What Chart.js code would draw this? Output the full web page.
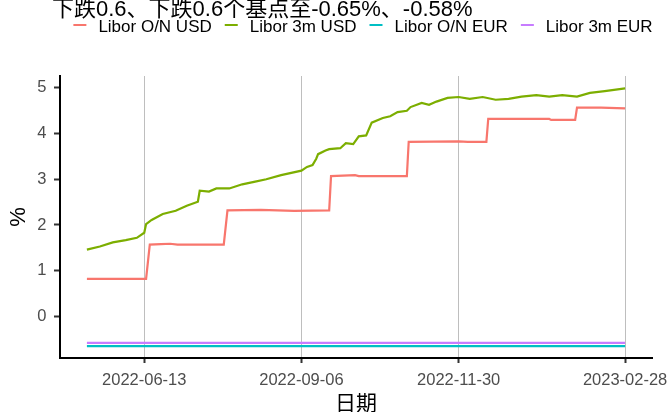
<!DOCTYPE html>
<html>
<head>
<meta charset="utf-8">
<script src="https://cdn.jsdelivr.net/npm/chart.js@4.4.1/dist/chart.umd.min.js"></script>
<style>
  html, body { margin: 0; padding: 0; background: #fff; overflow: hidden; }
  #wrap { width: 669px; height: 412px; position: relative; }
</style>
</head>
<body>
<div id="wrap"><canvas id="chart"></canvas></div>
<script>
// title and series names
const titleText = '下跌0.6、下跌0.6个基点至-0.65%、-0.58%';
const seriesLabels = ['Libor O/N USD', 'Libor 3m USD', 'Libor O/N EUR', 'Libor 3m EUR'];

// Libor O/N USD (%)
const onUsdDates = [
  '2022-05-13', '2022-05-31', '2022-06-14', '2022-06-16', '2022-06-22', '2022-06-27',
  '2022-07-01', '2022-07-26', '2022-07-28', '2022-08-15', '2022-09-02', '2022-09-21',
  '2022-09-22', '2022-10-05', '2022-10-07', '2022-11-02', '2022-11-03', '2022-11-30',
  '2022-12-05', '2022-12-15', '2022-12-16', '2023-01-18', '2023-01-19', '2023-02-01',
  '2023-02-02', '2023-02-15', '2023-02-28'
];
const onUsdValues = [
  0.82, 0.82, 0.82, 1.57, 1.58, 1.59,
  1.57, 1.57, 2.32, 2.33, 2.31, 2.32,
  3.07, 3.09, 3.07, 3.07, 3.82, 3.83,
  3.82, 3.82, 4.32, 4.32, 4.30, 4.30,
  4.57, 4.57, 4.55
];

// Libor 3m USD (%)
const m3UsdDates = [
  '2022-05-13', '2022-05-20', '2022-05-27', '2022-06-03', '2022-06-09', '2022-06-13',
  '2022-06-14', '2022-06-17', '2022-06-23', '2022-06-30', '2022-07-06', '2022-07-12',
  '2022-07-13', '2022-07-18', '2022-07-22', '2022-07-29', '2022-08-05', '2022-08-12',
  '2022-08-18', '2022-08-26', '2022-09-06', '2022-09-09', '2022-09-12', '2022-09-14',
  '2022-09-15', '2022-09-19', '2022-09-21', '2022-09-27', '2022-09-30', '2022-10-04',
  '2022-10-07', '2022-10-11', '2022-10-14', '2022-10-20', '2022-10-24', '2022-10-28',
  '2022-11-02', '2022-11-04', '2022-11-10', '2022-11-14', '2022-11-18', '2022-11-24',
  '2022-11-30', '2022-12-06', '2022-12-13', '2022-12-20', '2022-12-27', '2023-01-03',
  '2023-01-11', '2023-01-18', '2023-01-25', '2023-02-02', '2023-02-09', '2023-02-17',
  '2023-02-28'
];
const m3UsdValues = [
  1.46, 1.53, 1.62, 1.67, 1.72, 1.83,
  2.02, 2.11, 2.24, 2.31, 2.42, 2.51,
  2.75, 2.73, 2.80, 2.80, 2.89, 2.95,
  3.00, 3.09, 3.19, 3.27, 3.31, 3.45,
  3.55, 3.63, 3.66, 3.68, 3.79, 3.77,
  3.94, 3.96, 4.24, 4.34, 4.38, 4.47,
  4.50, 4.58, 4.67, 4.63, 4.70, 4.78,
  4.80, 4.76, 4.80, 4.74, 4.76, 4.81,
  4.84, 4.81, 4.84, 4.81, 4.89, 4.93,
  4.99
];

// EUR fixings stayed flat over the period
const eurDates = ['2022-05-13', '2023-02-28'];
const onEurValues = [-0.65, -0.65];
const m3EurValues = [-0.58, -0.58];

// axis ticks
const xTickDates = ['2022-06-13', '2022-09-06', '2022-11-30', '2023-02-28'];
const yTicks = [0, 1, 2, 3, 4, 5];
const yMin = -0.91;
const yMax = 5.26;

const colors = ['#F8766D', '#7CAE00', '#00BFC4', '#C77CFF'];

const day0 = Date.parse(onUsdDates[0]);
const toDay = (s) => (Date.parse(s) - day0) / 864e5;
const toPoints = (dates, values) => dates.map((d, i) => ({ x: toDay(d), y: values[i] }));

const xFirst = toDay(onUsdDates[0]);
const xLast = toDay(onUsdDates[onUsdDates.length - 1]);
const xPad = (xLast - xFirst) * 0.05;

const latin = '"Liberation Sans", Arial, "Noto Sans CJK SC", sans-serif';

const headerPlugin = {
  id: 'header',
  afterDraw(chart) {
    const ctx = chart.ctx;
    ctx.save();
    ctx.fillStyle = '#000';
    ctx.font = '22px ' + latin;
    ctx.textBaseline = 'alphabetic';
    ctx.textAlign = 'left';
    ctx.fillText(titleText, 52, 16);

    ctx.font = '17px ' + latin;
    const keyLen = 13, keyGap = 12, itemGap = 13;
    const widths = chart.data.datasets.map((ds) => ctx.measureText(ds.label).width);
    const total = widths.reduce((a, w) => a + keyLen + keyGap + w, 0) + itemGap * (widths.length - 1);
    let x = 363 - total / 2;
    chart.data.datasets.forEach((ds, i) => {
      ctx.strokeStyle = ds.borderColor;
      ctx.lineWidth = 2;
      ctx.beginPath();
      ctx.moveTo(x, 25);
      ctx.lineTo(x + keyLen, 25);
      ctx.stroke();
      ctx.fillStyle = '#000';
      ctx.fillText(ds.label, x + keyLen + keyGap, 32);
      x += keyLen + keyGap + widths[i] + itemGap;
    });
    ctx.restore();
  },
};

const lineSet = (i, pts) => ({
  label: seriesLabels[i],
  data: pts,
  borderColor: colors[i],
  backgroundColor: colors[i],
  borderWidth: 2.2,
  pointRadius: 0,
  tension: 0,
  order: 4 - i,
});

new Chart(document.getElementById('chart'), {
  type: 'line',
  data: {
    datasets: [
      lineSet(0, toPoints(onUsdDates, onUsdValues)),
      lineSet(1, toPoints(m3UsdDates, m3UsdValues)),
      lineSet(2, toPoints(eurDates, onEurValues)),
      lineSet(3, toPoints(eurDates, m3EurValues)),
    ],
  },
  options: {
    responsive: true,
    maintainAspectRatio: false,
    animation: false,
    layout: { padding: { top: 76, right: 17, bottom: 0, left: 0 } },
    plugins: {
      legend: { display: false },
      title: { display: false },
      tooltip: { enabled: false },
    },
    scales: {
      x: {
        type: 'linear',
        min: xFirst - xPad,
        max: xLast + xPad,
        afterBuildTicks: (scale) => {
          scale.ticks = xTickDates.map((d) => ({ value: toDay(d) }));
        },
        afterFit: (scale) => {
          scale.height = 54;
          scale.paddingLeft = 0;
          scale.paddingRight = 0;
        },
        ticks: {
          autoSkip: false,
          maxRotation: 0,
          padding: 8,
          color: '#4D4D4D',
          font: { family: latin, size: 16.5 },
          callback: (v, i) => xTickDates[i],
        },
        grid: {
          color: '#BEBEBE',
          lineWidth: 1,
          tickLength: 5,
          tickColor: '#333',
          tickWidth: 2,
        },
        border: { display: true, color: '#000', width: 2 },
        title: {
          display: true,
          text: '日期',
          color: '#000',
          font: { family: latin, size: 21, lineHeight: 0.75 },
          padding: { top: 0, bottom: 0 },
        },
      },
      y: {
        min: yMin,
        max: yMax,
        afterBuildTicks: (scale) => {
          scale.ticks = yTicks.map((v) => ({ value: v }));
        },
        afterFit: (scale) => {
          scale.width = 60;
          scale.paddingTop = 0;
          scale.paddingBottom = 0;
        },
        ticks: {
          padding: 7.5,
          color: '#4D4D4D',
          font: { family: latin, size: 16.5 },
        },
        grid: {
          drawOnChartArea: false,
          tickLength: 6,
          tickColor: '#333',
          tickWidth: 2,
        },
        border: { display: true, color: '#000', width: 2 },
        title: {
          display: true,
          text: '%',
          color: '#000',
          font: { family: latin, size: 22, lineHeight: 1 },
          padding: { top: 8, bottom: 0 },
        },
      },
    },
  },
  plugins: [headerPlugin],
});
</script>
</body>
</html>
